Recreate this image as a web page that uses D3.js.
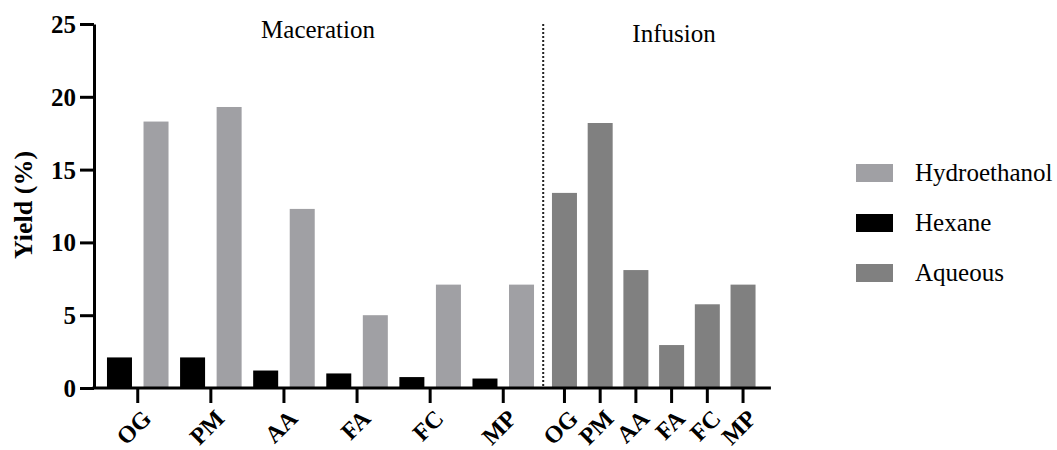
<!DOCTYPE html>
<html>
<head>
<meta charset="utf-8">
<script src="https://cdn.jsdelivr.net/npm/d3@7"></script>
<style>
  html, body { margin: 0; padding: 0; background: #fff; }
  svg { display: block; }
  text { font-family: "Liberation Serif", "Times New Roman", serif; fill: #000; }
</style>
</head>
<body>
<svg id="chart" width="1057" height="450"></svg>
<script>
// Plant extracts
const plants = ["OG", "PM", "AA", "FA", "FC", "MP"];

// Extraction yields (%)
const hexaneYield = [2.1, 2.1, 1.2, 1.0, 0.75, 0.65];
const hydroethanolYield = [18.3, 19.3, 12.3, 5.0, 7.1, 7.1];
const aqueousYield = [13.4, 18.2, 8.1, 2.95, 5.75, 7.1];

const yTicks = [0, 5, 10, 15, 20, 25];
const solvents = ["Hexane", "Hydroethanol"];
const legendItems = ["Hydroethanol", "Hexane", "Aqueous"];
const methodLabels = ["Maceration", "Infusion"];

const colors = {
  Hydroethanol: "#a0a0a4",
  Hexane: "#000000",
  Aqueous: "#808080"
};

const svg = d3.select("#chart");

const axisX = 94, baseY = 388, topY = 24;

const y = d3.scaleLinear().domain([0, 25]).range([baseY, topY]);

// Maceration: grouped (Hexane, Hydroethanol) per plant
const xMac = d3.scaleBand().domain(plants).range([101.2, 539.8]).padding(0);
const xSub = d3.scaleBand().domain(solvents).range([0, xMac.bandwidth()])
  .paddingInner(0.316).paddingOuter(0.158);

// Infusion: one aqueous bar per plant
const xInf = d3.scaleBand().domain(plants).range([546.6, 760.9])
  .paddingInner(0.3).paddingOuter(0.15);

const macRows = [];
plants.forEach((p, i) => {
  macRows.push({ plant: p, solvent: "Hexane", value: hexaneYield[i] });
  macRows.push({ plant: p, solvent: "Hydroethanol", value: hydroethanolYield[i] });
});
const infRows = plants.map((p, i) => ({ plant: p, value: aqueousYield[i] }));

// Bars
svg.append("g").selectAll("rect").data(macRows).join("rect")
  .attr("x", d => xMac(d.plant) + xSub(d.solvent))
  .attr("width", xSub.bandwidth())
  .attr("y", d => y(d.value))
  .attr("height", d => y(0) - y(d.value))
  .attr("fill", d => colors[d.solvent]);

svg.append("g").selectAll("rect").data(infRows).join("rect")
  .attr("x", d => xInf(d.plant))
  .attr("width", xInf.bandwidth())
  .attr("y", d => y(d.value))
  .attr("height", d => y(0) - y(d.value))
  .attr("fill", colors.Aqueous);

// Dotted separator between methods
const sepX = (xMac.range()[1] + xInf.range()[0]) / 2;
svg.append("line")
  .attr("x1", sepX).attr("x2", sepX)
  .attr("y1", y(25)).attr("y2", y(0))
  .attr("stroke", "#222").attr("stroke-width", 2)
  .attr("stroke-dasharray", "2,2");

// Y axis
const yAxis = svg.append("g")
  .attr("transform", `translate(${axisX},0)`)
  .call(d3.axisLeft(y).tickValues(yTicks).tickSize(14).tickPadding(4).tickSizeOuter(0));
yAxis.select(".domain").attr("stroke-width", 3).attr("stroke", "#000");
yAxis.selectAll(".tick line").attr("stroke-width", 3).attr("stroke", "#000");
yAxis.selectAll(".tick text")
  .attr("font-family", "Liberation Serif, serif")
  .attr("font-weight", "bold").attr("font-size", 25).attr("fill", "#000")
  .attr("dy", "0.34em");

// X axes (ticks and labels)
function styleX(g) {
  g.select(".domain").remove();
  g.selectAll(".tick line").attr("stroke-width", 3).attr("stroke", "#000");
  g.selectAll(".tick text")
    .attr("font-family", "Liberation Serif, serif")
    .attr("font-weight", "bold").attr("font-size", 24).attr("fill", "#000")
    .attr("text-anchor", "end")
    .attr("transform", "translate(9,26) rotate(-45)")
    .attr("dy", "0.35em").attr("y", 0).attr("x", 0);
}
svg.append("g").attr("transform", `translate(0,${baseY})`)
  .call(d3.axisBottom(xMac).tickSize(15).tickPadding(0)).call(styleX);
svg.append("g").attr("transform", `translate(0,${baseY})`)
  .call(d3.axisBottom(xInf).tickSize(15).tickPadding(0)).call(styleX);

// Baseline
svg.append("line")
  .attr("x1", axisX - 1.5).attr("x2", xInf.range()[1] + 10)
  .attr("y1", baseY).attr("y2", baseY)
  .attr("stroke", "#000").attr("stroke-width", 3);

// Y axis title
svg.append("text")
  .attr("transform", `translate(32,205) rotate(-90)`)
  .attr("text-anchor", "middle")
  .attr("font-weight", "bold").attr("font-size", 26)
  .text("Yield (%)");

// Method labels
svg.append("text").attr("x", 318).attr("y", 38)
  .attr("text-anchor", "middle").attr("font-size", 25).text(methodLabels[0]);
svg.append("text").attr("x", 674).attr("y", 42)
  .attr("text-anchor", "middle").attr("font-size", 25).text(methodLabels[1]);

// Legend
const legend = svg.append("g").attr("transform", "translate(856,164)");
const li = legend.selectAll("g").data(legendItems).join("g")
  .attr("transform", (d, i) => `translate(0,${i * 50})`);
li.append("rect").attr("width", 37).attr("height", 18)
  .attr("fill", d => colors[d]);
li.append("text").attr("x", 59).attr("y", 17)
  .attr("font-size", 25).text(d => d);
</script>
</body>
</html>
